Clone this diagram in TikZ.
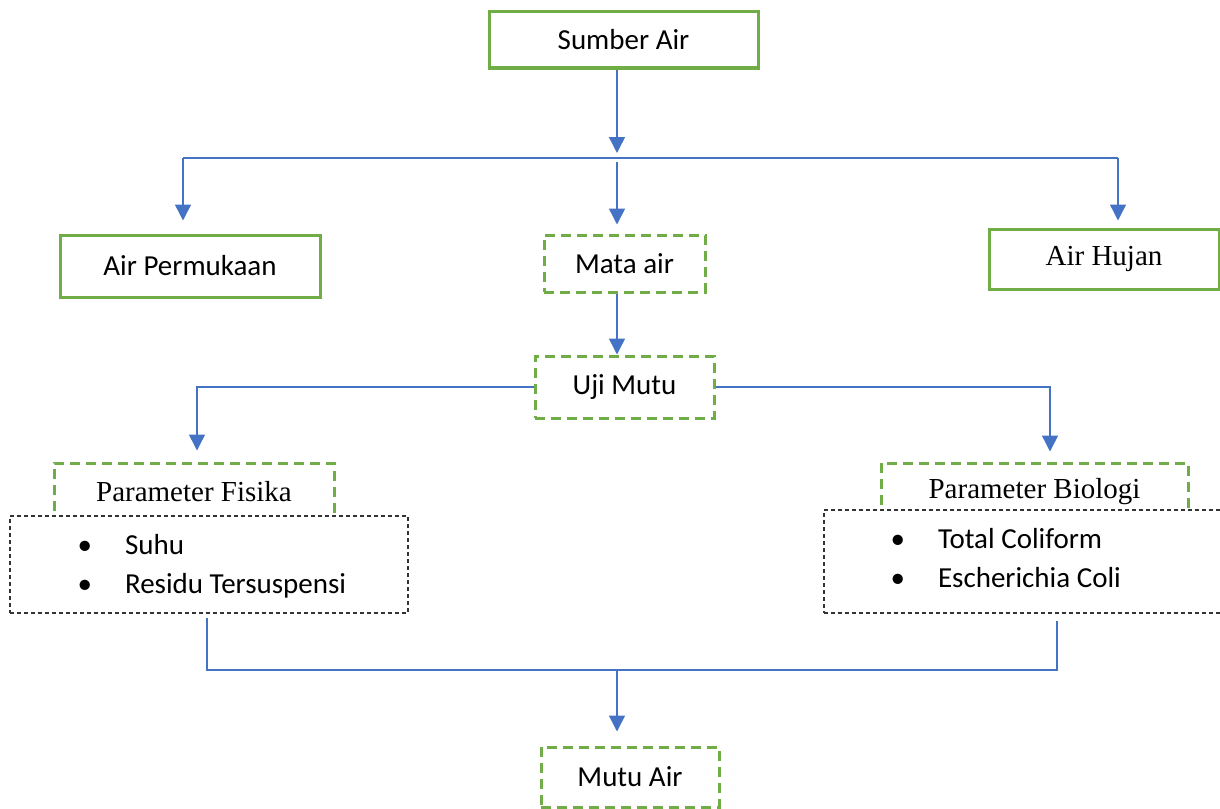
\documentclass[tikz,border=0pt]{standalone}
\usepackage{fontspec}
\setmainfont{Carlito}
\newfontfamily\timesfont{Liberation Serif}
\usetikzlibrary{arrows.meta,positioning}
\definecolor{boxgreen}{HTML}{70AD47}
\definecolor{lineblue}{HTML}{4472C4}
\newcommand{\bodysize}{\fontsize{29}{35}\selectfont}
\begin{document}
\begin{tikzpicture}[x=1pt,y=-1pt,font=\bodysize,
    solidbox/.style={draw=boxgreen,line width=3pt,fill=white,inner sep=0pt},
    dashbox/.style={draw=boxgreen,line width=3pt,dash pattern=on 10pt off 6pt,fill=white,inner sep=0pt},
    listbox/.style={draw=black!80,line width=1.2pt,dash pattern=on 4pt off 3pt,fill=white,inner sep=0pt},
    items/.style={inner sep=0pt,align=left},
    serif/.style={font=\bodysize\timesfont},
    link/.style={draw=lineblue,line width=1.5pt},
    arrow/.style={link,-{Triangle[width=16pt,length=16pt]}}]
  \useasboundingbox (0,0) rectangle (1220,808);
  \clip (0,0) rectangle (1220,808);
  \fill[white] (0,0) rectangle (1220,808);
  \renewcommand{\arraystretch}{1.12}
  % boxes
  \node[solidbox,minimum width=269pt,minimum height=56pt] (sumber) at (623.5,40) {Sumber Air};
  \node[solidbox,minimum width=260pt,minimum height=62pt] (permukaan) at (190,266) {Air Permukaan};
  \node[dashbox,minimum width=161pt,minimum height=57pt] (mataair) at (624.5,263.5) {Mata air};
  \node[solidbox,serif,minimum width=230pt,minimum height=60pt] (hujan) at (1104,259) {Air Hujan};
  \node[dashbox,minimum width=179pt,minimum height=62pt] (ujimutu) at (624.5,387) {Uji Mutu};
  \node[dashbox,serif,minimum width=280pt,minimum height=58pt] (fisika) at (194,492) {Parameter Fisika};
  \node[dashbox,serif,minimum width=307pt,minimum height=58pt] (biologi) at (1034.5,492) {Parameter Biologi};
  \node[listbox,minimum width=398pt,minimum height=97pt] (fisikalist) at (209,564.5) {};
  \node[listbox,minimum width=416pt,minimum height=103pt] (biologilist) at (1032,561.5) {};
  \node[items,anchor=west] (fisikaitems) at ([xshift=68pt,yshift=-2pt]fisikalist.west)
    {\begin{tabular}{@{}l@{\hspace{33pt}}l@{}} • & Suhu\\ • & Residu Tersuspensi\end{tabular}};
  \node[items,anchor=west] (biologiitems) at ([xshift=67pt,yshift=1.5pt]biologilist.west)
    {\begin{tabular}{@{}l@{\hspace{33pt}}l@{}} • & Total Coliform\\ • & Escherichia Coli\end{tabular}};
  \node[dashbox,minimum width=178pt,minimum height=60pt] (mutu) at (630,777) {Mutu Air};
  % connectors
  \coordinate (split) at (617,158);
  \coordinate (splitleft) at (183,158);
  \coordinate (splitright) at (1118,158);
  \draw[arrow] (sumber.south -| split) -- ([yshift=5pt]split);
  \draw[link] (splitleft) -- (splitright);
  \draw[arrow] (splitleft) -- ([yshift=13pt]splitleft |- permukaan.north);
  \draw[arrow] (splitright) -- ([yshift=7pt]splitright |- hujan.north);
  \draw[arrow] ([yshift=-4pt]split) -- ([yshift=9pt]split |- mataair.north);
  \draw[arrow] (mataair.south -| split) -- (ujimutu.north -| split);
  \coordinate (fisikadrop) at (197,387);
  \coordinate (biologidrop) at (1050,387);
  \draw[arrow] (ujimutu.west) -- (fisikadrop) -- ([yshift=11pt]fisikadrop |- fisika.north);
  \draw[arrow] (ujimutu.east) -- (biologidrop) -- ([yshift=10pt]biologidrop |- biologi.north);
  \coordinate (merge) at (617,670);
  \coordinate (mergeleft) at (207,670);
  \coordinate (mergeright) at (1057,670);
  \draw[link] ([yshift=-4pt]fisikalist.south -| mergeleft) -- (mergeleft) -- (mergeright)
    -- ([yshift=-7pt]biologilist.south -| mergeright);
  \draw[arrow] (merge) -- ([yshift=14pt]merge |- mutu.north);
\end{tikzpicture}
\end{document}
